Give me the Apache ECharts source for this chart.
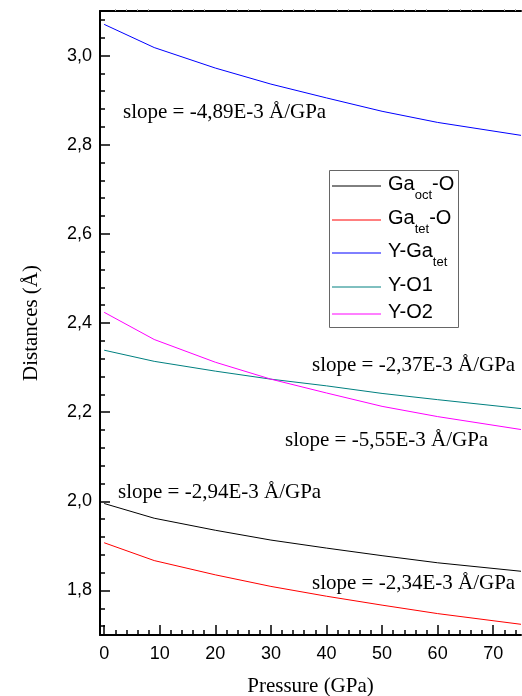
<!DOCTYPE html>
<html>
<head>
<meta charset="utf-8">
<script src="https://cdn.jsdelivr.net/npm/echarts@6/dist/echarts.min.js"></script>
<style>
  html, body { margin: 0; padding: 0; background: #fff; }
  #main { width: 522px; height: 696px; }
</style>
</head>
<body>
<div id="main"></div>
<script>
// pressures (GPa)
const pressure = [0, 9, 20, 30, 40, 50, 60, 75];
// distances (Å)
const gaOctO = [1.995, 1.962, 1.935, 1.913, 1.895, 1.878, 1.862, 1.843];
const gaTetO = [1.907, 1.867, 1.835, 1.809, 1.787, 1.767, 1.748, 1.724];
const yGaTet = [3.070, 3.018, 2.972, 2.936, 2.905, 2.875, 2.850, 2.821];
const yO1 = [2.339, 2.314, 2.292, 2.274, 2.259, 2.242, 2.228, 2.208];
const yO2 = [2.424, 2.363, 2.312, 2.274, 2.243, 2.213, 2.190, 2.161];

const names = ['Gaoct-O', 'Gatet-O', 'Y-Gatet', 'Y-O1', 'Y-O2'];
// legend label pieces: text, subscript, text after
const labelParts = [['Ga', 'oct', '-O'], ['Ga', 'tet', '-O'], ['Y-Ga', 'tet', ''], ['Y-O1', '', ''], ['Y-O2', '', '']];
const colors = ['#000000', '#ff0000', '#0000ff', '#008080', '#ff00ff'];

// tick values
const xMajor = [0, 10, 20, 30, 40, 50, 60, 70];
const yMajor = [1.8, 2.0, 2.2, 2.4, 2.6, 2.8, 3.0];
const xMinor = [];
for (let v = 2; v <= 74; v += 2) if (v % 10 !== 0) xMinor.push(v);
const yMinor = [];
for (let i = 43; i <= 77; i++) if (i % 5 !== 0) yMinor.push(Math.round(i * 4) / 100);

const slopes = [
  { text: 'slope = -4,89E-3 Å/GPa', x: 123, y: 112 },
  { text: 'slope = -2,37E-3 Å/GPa', x: 312, y: 365 },
  { text: 'slope = -5,55E-3 Å/GPa', x: 285, y: 440 },
  { text: 'slope = -2,94E-3 Å/GPa', x: 118, y: 492 },
  { text: 'slope = -2,34E-3 Å/GPa', x: 312, y: 583 }
];

function pairs(vals) {
  return pressure.map((p, i) => [p, vals[i]]);
}

let serif = '"Liberation Serif", "Times New Roman", serif';
let sans = '"Liberation Sans", Arial, sans-serif';

// legend drawn by hand (subscripts)
let ctx = document.createElement('canvas').getContext('2d');
function textWidth(t, size) {
  ctx.font = size + 'px ' + sans;
  return ctx.measureText(t).width;
}
let legendRows = [186, 220, 253, 287, 314];
let legendGraphic = [{
  type: 'rect',
  shape: { x: 329.5, y: 170.5, width: 129, height: 157 },
  style: { fill: '#fff', stroke: '#666', lineWidth: 1 },
  z: 10
}];
labelParts.forEach((parts, i) => {
  let ry = legendRows[i];
  legendGraphic.push({
    type: 'line',
    shape: { x1: 332, y1: ry, x2: 381, y2: ry },
    style: { stroke: colors[i], lineWidth: 1 },
    z: 11
  });
  let x = 388;
  legendGraphic.push({
    type: 'text', x: x, y: ry - 1.6, z: 11,
    style: { text: parts[0], font: '20px ' + sans, fill: '#000', verticalAlign: 'middle' }
  });
  x += textWidth(parts[0], 20);
  if (parts[1]) {
    legendGraphic.push({
      type: 'text', x: x, y: ry + 9.5, z: 11,
      style: { text: parts[1], font: '13px ' + sans, fill: '#000', verticalAlign: 'middle' }
    });
    x += textWidth(parts[1], 13);
  }
  if (parts[2]) {
    legendGraphic.push({
      type: 'text', x: x, y: ry - 1.6, z: 11,
      style: { text: parts[2], font: '20px ' + sans, fill: '#000', verticalAlign: 'middle' }
    });
  }
});

let chart = echarts.init(document.getElementById('main'));

let option = {
  animation: false,
  backgroundColor: '#fff',
  grid: { left: 100, right: 1, top: 11, bottom: 61, outerBoundsMode: 'none', containLabel: false },
  xAxis: [
    {
      type: 'value', position: 'bottom', min: -0.75, max: 75,
      name: 'Pressure (GPa)', nameLocation: 'middle', nameGap: 41,
      nameTextStyle: { fontFamily: serif, fontSize: 21, color: '#000' },
      axisLine: { onZero: false, lineStyle: { color: '#000', width: 2 } },
      axisTick: { inside: true, length: 10, customValues: xMajor, lineStyle: { color: '#000', width: 1.5 } },
      axisLabel: { customValues: xMajor, fontFamily: sans, fontSize: 18, color: '#000', margin: 10 },
      splitLine: { show: false }
    },
    {
      type: 'value', position: 'bottom', min: -0.75, max: 75,
      axisLine: { show: false, onZero: false },
      axisTick: { inside: true, length: 5, customValues: xMinor, lineStyle: { color: '#000', width: 1.5 } },
      axisLabel: { show: false },
      splitLine: { show: false }
    },
    {
      type: 'value', position: 'top', min: -0.75, max: 75,
      axisLine: { onZero: false, lineStyle: { color: '#000', width: 2 } },
      axisTick: { length: 2, customValues: xMinor, lineStyle: { color: '#aaa', width: 1 } },
      axisLabel: { show: false },
      splitLine: { show: false }
    }
  ],
  yAxis: [
    {
      type: 'value', position: 'left', min: 1.7, max: 3.1,
      name: 'Distances (Å)', nameLocation: 'middle', nameGap: 58,
      nameTextStyle: { fontFamily: serif, fontSize: 21, color: '#000' },
      axisLine: { show: true, onZero: false, lineStyle: { color: '#000', width: 2 } },
      axisTick: { show: true, inside: true, length: 10, customValues: yMajor, lineStyle: { color: '#000', width: 1.5 } },
      axisLabel: {
        customValues: yMajor, fontFamily: sans, fontSize: 18, color: '#000', margin: 8,
        formatter: function (v) { return v.toFixed(1).replace('.', ','); }
      },
      splitLine: { show: false }
    },
    {
      type: 'value', position: 'left', min: 1.7, max: 3.1,
      axisLine: { show: false, onZero: false },
      axisTick: { show: true, inside: true, length: 5, customValues: yMinor, lineStyle: { color: '#000', width: 1.5 } },
      axisLabel: { show: false },
      splitLine: { show: false }
    }
  ],
  graphic: slopes.map(s => ({
    type: 'text',
    x: s.x,
    y: s.y,
    style: { text: s.text, font: '21px ' + serif, fill: '#000', align: 'left', verticalAlign: 'middle' }
  })).concat(legendGraphic),
  series: [gaOctO, gaTetO, yGaTet, yO1, yO2].map((vals, i) => ({
    name: names[i],
    type: 'line',
    xAxisIndex: 0,
    yAxisIndex: 0,
    symbol: 'none',
    data: pairs(vals),
    color: colors[i],
    lineStyle: { width: 1, color: colors[i] }
  }))
};
option && chart.setOption(option);
</script>
</body>
</html>
